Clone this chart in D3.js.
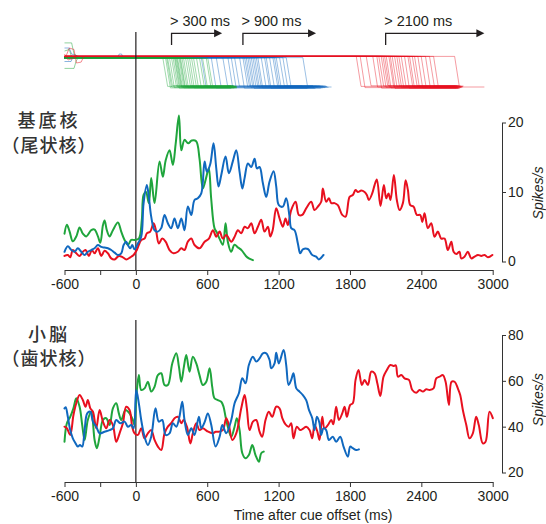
<!DOCTYPE html>
<html><head><meta charset="utf-8">
<script src="https://cdn.jsdelivr.net/npm/d3@7"></script>
<style>
html,body{margin:0;padding:0;background:#fff;}
svg{display:block;}
</style></head>
<body>
<svg id="chart" width="546" height="524"></svg>
<script>
// ---------------- DATA ----------------
const xTickValues = [-600, -300, 0, 600, 1200, 1800, 2400, 3000];
const xTickLabels = ["-600", "", "0", "600", "1200", "1800", "2400", "3000"];
const topYTicks = [0, 10, 20];
const botYTicks = [20, 40, 60, 80];
const topLabel = ["基底核", "（尾状核）"];
const botLabel = ["小脳", "（歯状核）"];
const yTitle = "Spikes/s";
const xTitle = "Time after cue offset (ms)";
const arrowLabels = ["> 300 ms", "> 900 ms", "> 2100 ms"];
const arrowStart = [300, 900, 2100];
const arrowEnd = [725, 1515, 2930];

// top panel (caudate) firing rate [ms, spikes/s]
const caudateGreen = [[-600,4.0],[-580,5.3],[-557,4.3],[-530,2.9],[-501,3.6],[-473,4.9],[-446,4.0],[-417,3.6],[-375,4.5],[-347,4.6],[-319,3.6],[-299,2.7],[-277,5.2],[-263,5.9],[-244,4.5],[-221,3.6],[-193,4.5],[-151,5.6],[-123,4.3],[-95,3.1],[-67,2.4],[-39,3.1],[-11,3.1],[25,3.3],[50,6.0],[65,9.6],[85,10.0],[109,8.4],[129,12.0],[157,8.4],[199,14.4],[227,12.2],[250,14.5],[283,16.0],[311,13.9],[335,17.0],[362,21.0],[382,16.0],[409,17.5],[440,17.0],[470,17.4],[507,17.3],[535,14.8],[563,10.5],[590,12.0],[613,13.4],[633,9.1],[661,4.8],[680,4.2],[703,3.3],[731,2.4],[754,5.5],[773,2.85],[801,1.4],[829,2.4],[860,2.0],[890,1.6],[925,0.8],[950,0.45],[984,0.2]];
const caudateBlue = [[-600,1.4],[-572,2.2],[-543,1.65],[-515,1.4],[-488,1.9],[-459,1.4],[-431,0.94],[-404,1.4],[-375,1.65],[-347,1.9],[-319,2.37],[-291,2.1],[-263,2.0],[-235,1.9],[-207,1.65],[-179,1.27],[-151,0.94],[-123,1.18],[-103,2.37],[-81,2.85],[-67,2.37],[-47,1.9],[-30,2.37],[-11,1.75],[17,2.6],[45,3.57],[65,8.4],[92,11.0],[109,9.3],[129,6.45],[157,4.5],[185,4.3],[213,4.8],[241,6.7],[269,5.5],[297,4.8],[325,6.2],[353,4.8],[382,6.2],[409,4.5],[437,7.9],[466,6.7],[493,8.85],[521,9.1],[550,9.8],[578,14.4],[597,12.9],[625,14.0],[653,17.0],[676,13.4],[695,10.8],[718,12.45],[754,15.1],[782,12.7],[815,14.4],[844,16.0],[872,12.9],[895,10.5],[914,12.0],[942,14.1],[970,13.6],[998,14.8],[1018,13.4],[1040,13.6],[1068,11.25],[1096,9.3],[1124,11.5],[1158,13.0],[1180,10.8],[1202,8.1],[1236,7.9],[1264,9.1],[1292,6.45],[1306,4.8],[1334,4.5],[1362,2.6],[1382,1.18],[1404,1.75],[1446,1.8],[1483,0.94],[1516,0.7],[1538,0.3],[1578,0.94]];
const caudateRed = [[-600,0.8],[-572,0.94],[-552,0.6],[-530,1.65],[-501,1.18],[-473,0.8],[-446,1.4],[-423,1.65],[-395,0.8],[-370,1.65],[-347,1.18],[-319,1.9],[-291,0.8],[-263,1.55],[-235,1.18],[-207,0.45],[-179,0.3],[-143,0.8],[-109,0.6],[-81,0.3],[-47,0.6],[-19,0.94],[8,1.65],[45,3.1],[73,3.3],[92,4.05],[121,4.3],[149,5.5],[171,4.3],[193,2.6],[222,3.3],[250,2.85],[283,1.65],[317,1.18],[353,1.4],[382,1.9],[409,1.65],[437,2.85],[466,3.3],[493,2.37],[535,1.9],[578,2.85],[614,3.3],[648,4.5],[676,3.57],[704,4.3],[731,3.3],[760,3.8],[802,2.85],[830,3.57],[858,4.5],[886,4.05],[914,5.0],[942,4.8],[970,5.5],[998,4.05],[1026,5.0],[1054,6.0],[1082,4.3],[1110,5.0],[1130,3.6],[1150,4.5],[1180,7.65],[1208,6.2],[1236,5.0],[1258,6.2],[1278,5.25],[1306,7.4],[1343,8.6],[1370,6.7],[1399,6.7],[1432,7.65],[1474,8.6],[1502,7.4],[1530,7.9],[1558,8.6],[1572,10.5],[1600,8.6],[1623,9.1],[1643,8.4],[1670,8.4],[1698,8.1],[1735,6.7],[1763,6.45],[1797,9.3],[1824,9.57],[1847,10.3],[1866,10.0],[1895,10.2],[1923,10.0],[1942,9.57],[1959,8.85],[1987,9.8],[2007,11.0],[2026,11.8],[2057,8.0],[2085,11.0],[2105,9.1],[2124,9.8],[2141,8.85],[2169,12.45],[2194,8.85],[2217,7.4],[2245,8.4],[2268,11.7],[2287,10.3],[2307,8.1],[2335,7.9],[2362,6.7],[2391,6.7],[2408,5.7],[2427,6.95],[2455,4.8],[2483,5.5],[2511,3.57],[2539,4.3],[2567,3.3],[2595,3.3],[2623,1.65],[2652,2.85],[2671,1.4],[2694,1.08],[2721,1.4],[2735,0.45],[2763,0.7],[2791,1.4],[2820,0.45],[2848,0.7],[2876,0.94],[2904,0.8],[2932,0.94],[2960,0.6],[2997,0.94]];

// bottom panel (dentate) firing rate [ms, spikes/s]
const dentateGreen = [[-600,33.4],[-580,41.5],[-552,44.3],[-525,48.0],[-501,52.4],[-473,48.7],[-451,40.7],[-431,34.2],[-404,42.9],[-375,46.5],[-347,34.2],[-328,30.6],[-305,35.6],[-277,42.9],[-249,43.7],[-221,40.7],[-193,48.0],[-165,50.2],[-143,45.8],[-123,42.9],[-87,47.3],[-53,45.8],[-25,42.9],[-11,40.7],[3,52.4],[25,62.5],[45,56.0],[73,56.7],[101,59.6],[129,55.3],[157,57.4],[185,62.5],[213,63.3],[241,58.2],[269,58.2],[306,67.6],[340,72.0],[362,66.2],[382,59.6],[404,66.2],[424,71.3],[451,64.0],[479,70.5],[508,67.6],[535,62.5],[563,58.2],[592,59.6],[620,65.5],[642,57.4],[661,52.4],[689,51.6],[718,50.9],[737,48.7],[754,44.3],[773,40.0],[802,35.6],[830,40.0],[849,43.7],[872,38.5],[895,28.4],[922,26.2],[950,27.6],[979,32.0],[1006,27.6],[1034,24.7],[1054,28.4],[1075,29.1]];
const dentateBlue = [[-600,48.0],[-590,48.5],[-572,44.3],[-552,38.5],[-530,34.9],[-510,33.0],[-488,31.3],[-470,32.0],[-451,31.3],[-431,38.5],[-409,45.8],[-383,46.5],[-361,42.2],[-333,40.0],[-305,37.1],[-263,37.8],[-221,38.5],[-193,39.3],[-165,42.9],[-131,41.5],[-95,42.2],[-67,40.0],[-39,40.7],[-19,39.3],[3,56.0],[25,50.2],[45,42.9],[73,35.6],[101,32.0],[129,35.6],[165,48.0],[193,42.2],[222,42.9],[250,36.4],[283,37.1],[311,41.5],[340,40.0],[365,44.0],[390,50.9],[409,42.9],[437,36.4],[466,39.3],[493,36.4],[530,44.3],[550,39.3],[578,42.0],[605,45.8],[634,40.7],[670,31.3],[704,35.6],[727,40.7],[760,37.1],[802,42.9],[830,50.2],[866,54.6],[895,61.1],[922,58.9],[950,66.9],[984,70.5],[1012,68.4],[1040,69.8],[1068,72.0],[1096,72.0],[1124,69.1],[1138,65.5],[1166,67.6],[1180,72.3],[1202,67.6],[1242,73.5],[1264,66.9],[1284,58.2],[1306,60.4],[1325,63.3],[1349,56.7],[1376,55.3],[1404,53.8],[1432,51.6],[1455,47.3],[1483,43.7],[1502,38.5],[1522,44.3],[1544,41.5],[1558,36.4],[1578,39.3],[1600,38.5],[1623,34.2],[1656,35.6],[1684,33.4],[1718,35.6],[1746,31.3],[1782,26.9],[1802,31.3],[1824,30.6],[1853,29.8],[1875,30.1]];
const dentateRed = [[-600,40.0],[-580,39.3],[-552,36.4],[-525,45.0],[-501,50.2],[-473,53.8],[-446,51.6],[-423,48.7],[-404,51.6],[-383,48.0],[-361,46.5],[-333,39.3],[-305,47.3],[-277,42.2],[-249,39.3],[-221,42.9],[-193,40.7],[-165,33.4],[-137,37.1],[-109,41.5],[-81,48.7],[-53,47.3],[-31,40.0],[-11,37.1],[17,36.4],[45,39.3],[73,34.9],[101,37.1],[129,38.5],[157,34.2],[185,31.3],[213,29.8],[241,37.1],[269,40.0],[297,41.5],[325,43.7],[353,44.3],[382,41.5],[401,42.9],[429,40.0],[458,32.7],[479,37.1],[508,41.5],[535,38.5],[563,39.3],[600,38.0],[648,37.1],[670,37.8],[698,37.8],[731,38.5],[760,43.7],[782,40.7],[811,34.2],[844,37.1],[886,48.0],[914,53.8],[933,48.0],[956,38.5],[984,42.2],[1012,42.9],[1040,37.8],[1062,35.6],[1090,42.9],[1118,46.5],[1146,44.3],[1180,48.7],[1208,48.0],[1231,43.7],[1258,41.0],[1286,40.0],[1306,41.5],[1325,34.9],[1353,40.0],[1382,38.5],[1410,39.3],[1432,40.0],[1460,38.5],[1483,34.9],[1502,40.7],[1525,38.0],[1544,34.2],[1567,44.3],[1586,39.3],[1614,40.7],[1643,42.9],[1660,41.0],[1684,48.7],[1707,42.9],[1735,45.8],[1755,48.7],[1774,44.3],[1802,49.5],[1824,50.2],[1847,60.4],[1872,64.7],[1900,58.2],[1923,60.4],[1951,58.2],[1979,64.0],[2007,63.3],[2030,58.9],[2055,53.4],[2082,61.8],[2110,64.7],[2139,66.9],[2166,66.5],[2185,66.8],[2203,61.8],[2231,62.5],[2259,61.1],[2296,60.4],[2324,56.0],[2357,54.8],[2385,56.0],[2413,55.3],[2441,56.3],[2469,56.0],[2503,56.7],[2525,61.1],[2553,61.8],[2581,62.5],[2604,59.6],[2632,49.5],[2654,59.6],[2680,59.6],[2707,56.7],[2727,53.8],[2749,47.3],[2778,40.7],[2805,34.9],[2833,37.1],[2861,44.3],[2883,40.7],[2917,32.7],[2940,33.4],[2973,46.5],[3001,43.7]];

// raster trials: [release time ms, trace end ms, low level]
const greenTrials = [[227,790,0.02],[250,805,-0.03],[260,820,0.0],[267,800,0.05],[283,830,-0.02],[300,815,0.03],[313,840,0.0],[325,800,-0.04],[330,845,0.02],[338,825,0.04],[345,810,-0.01],[351,835,0.01],[363,850,-0.03],[370,820,0.03],[376,805,0.0],[388,840,0.02],[401,830,-0.02],[418,815,0.04],[435,845,0.0],[451,825,-0.03],[468,850,0.02],[485,835,0.01],[510,840,-0.02],[535,830,0.03],[561,845,0.0],[592,850,-0.02],[605,840,0.02]];
const blueTrials = [[550,1420,0.01],[634,1450,-0.03],[676,1480,0.02],[731,1400,0.04],[774,1500,-0.02],[802,1460,0.0],[830,1520,0.03],[872,1440,-0.04],[900,1540,0.01],[914,1490,0.05],[928,1470,-0.02],[942,1550,0.02],[956,1510,-0.05],[970,1530,0.0],[984,1560,0.03],[998,1500,-0.02],[1012,1545,0.04],[1026,1570,-0.03],[1054,1525,0.01],[1082,1580,0.02],[1096,1555,-0.04],[1124,1600,0.0],[1152,1575,0.03],[1166,1590,-0.02],[1180,1610,0.01],[1208,1595,0.04],[1236,1620,-0.01],[1264,1605,0.02],[1404,1645,0.0]];
const redTrials = [[1853,2680,0.02],[1886,2700,-0.02],[1937,2690,0.04],[1992,2710,0.0],[2026,2695,-0.04],[2043,2720,0.03],[2063,2705,-0.01],[2077,2715,0.05],[2091,2690,0.0],[2105,2725,-0.03],[2127,2700,0.02],[2139,2710,-0.05],[2155,2730,0.01],[2175,2700,0.04],[2194,2715,-0.02],[2211,2735,0.0],[2231,2705,0.03],[2259,2720,-0.04],[2287,2740,0.02],[2301,2710,-0.01],[2324,2730,0.04],[2343,2745,0.0],[2371,2720,-0.03],[2399,2750,0.02],[2435,2735,-0.02],[2469,2755,0.03],[2503,2745,0.0],[2680,2930,0.0]];
// raster pre-cue clutter [ms, level]
const greenPre = [[[-600,1.47],[-540,1.47],[-520,1.1],[-480,1.0]],[[-600,0.62],[-520,0.62],[-500,0.9],[-470,1.0]],[[-600,1.2],[-560,1.25],[-540,1.0]]];
const bluePre = [[[-600,1.3],[-560,1.3],[-540,1.1],[-500,1.05]],[[-600,0.85],[-545,0.85],[-530,1.0]],[[-150,1.0],[-140,1.1],[-120,1.1],[-110,1.0]]];
const redPre = [[[-590,1.0],[-560,1.3],[-520,1.25],[-500,0.8],[-460,0.83],[-440,1.0]],[[-600,1.1],[-570,0.9],[-530,0.95],[-510,1.0]]];

// ---------------- DRAW ----------------
const svg = d3.select("#chart");
const col = {green: "#1fa53c", blue: "#1068bf", red: "#e8101f"};
const axisCol = "#333";
const numFont = "'Liberation Sans', Arial, sans-serif";
const cjkFont = "'Noto Sans CJK JP', 'Noto Sans CJK SC', sans-serif";

const x = d3.scaleLinear().domain([-600, 3000]).range([64.5, 492.7]);
const yTop = d3.scaleLinear().domain([0, 20]).range([261.5, 122.5]);
const yBot = d3.scaleLinear().domain([20, 80]).range([472.5, 335]);
const yRas = d3.scaleLinear().domain([0, 1]).range([87, 57]);

const topAxisY = 270, botAxisY = 482, rightAxisX = 502;

// ---- raster ----
const rasLine = d3.line().x(d => x(d[0])).y(d => yRas(d[1]));
const rasG = svg.append("g");
function drawTrials(trials, pre, color, hi) {
  trials.forEach(t => {
    const pts = [[-600, hi], [t[0], hi], [t[0] + 40, t[2]], [t[1], t[2]]];
    rasG.append("path").attr("d", rasLine(pts)).attr("fill", "none")
      .attr("stroke", color).attr("stroke-width", 0.7).attr("stroke-opacity", 0.6);
  });
  pre.forEach(p => {
    rasG.append("path").attr("d", rasLine(p)).attr("fill", "none")
      .attr("stroke", color).attr("stroke-width", 0.7).attr("stroke-opacity", 0.7);
  });
}
drawTrials(blueTrials, bluePre, col.blue, 0.98);
drawTrials(greenTrials, greenPre, col.green, 0.96);
drawTrials(redTrials, redPre, col.red, 1.02);

// arrows
arrowStart.forEach((s, i) => {
  const g = svg.append("g");
  g.append("path").attr("d", `M${x(s)},45 L${x(s)},33.3 L${x(arrowEnd[i]) - 7},33.3`)
    .attr("fill", "none").attr("stroke", "#231f20").attr("stroke-width", 1.3);
  const tip = x(arrowEnd[i]);
  g.append("path").attr("d", `M${tip},33.3 L${tip - 8},29.3 L${tip - 8},37.3 Z`).attr("fill", "#231f20");
  g.append("text").attr("x", x(s) - 1.5).attr("y", 26).attr("font-family", numFont)
    .attr("font-size", 14.5).attr("fill", "#231f20").text(arrowLabels[i]);
});

// zero lines
svg.append("line").attr("x1", x(0)).attr("x2", x(0)).attr("y1", 32).attr("y2", topAxisY)
  .attr("stroke", "#231f20").attr("stroke-width", 1.2);
svg.append("line").attr("x1", x(0)).attr("x2", x(0)).attr("y1", 320).attr("y2", botAxisY)
  .attr("stroke", "#231f20").attr("stroke-width", 1.2);

// curves
function drawCurve(data, yS, color) {
  const line = d3.line().x(d => x(d[0])).y(d => yS(d[1])).curve(d3.curveCatmullRom.alpha(0.5));
  svg.append("path").attr("d", line(data)).attr("fill", "none")
    .attr("stroke", color).attr("stroke-width", 2).attr("stroke-linejoin", "round").attr("stroke-linecap", "round");
}
drawCurve(caudateGreen, yTop, col.green);
drawCurve(caudateRed, yTop, col.red);
drawCurve(caudateBlue, yTop, col.blue);
drawCurve(dentateGreen, yBot, col.green);
drawCurve(dentateRed, yBot, col.red);
drawCurve(dentateBlue, yBot, col.blue);

// axes
function styleAxis(g) {
  g.selectAll("path,line").attr("stroke", axisCol).attr("stroke-width", 1);
  g.selectAll("text").attr("font-family", numFont).attr("font-size", 14).attr("fill", "#231f20");
}
const xAxis = d3.axisBottom(x).tickValues(xTickValues).tickSize(5).tickSizeOuter(0)
  .tickPadding(4).tickFormat((d, i) => xTickLabels[i]);
svg.append("g").attr("transform", `translate(0,${topAxisY})`).call(xAxis).call(styleAxis);
svg.append("g").attr("transform", `translate(0,${botAxisY})`).call(xAxis).call(styleAxis);

svg.append("g").attr("transform", `translate(${rightAxisX},0)`)
  .call(d3.axisRight(yTop).tickValues(topYTicks).tickSize(4).tickSizeOuter(0).tickPadding(2))
  .call(styleAxis);
svg.append("g").attr("transform", `translate(${rightAxisX},0)`)
  .call(d3.axisRight(yBot).tickValues(botYTicks).tickSize(4).tickSizeOuter(0).tickPadding(2))
  .call(styleAxis);
svg.selectAll(".domain").attr("fill", "none");

// y titles
[[ (yTop(0) + yTop(20)) / 2 + 1 ], [ (yBot(20) + yBot(80)) / 2 - 4 ]].forEach(c => {
  svg.append("text").attr("transform", `translate(543,${c[0]}) rotate(-90)`)
    .attr("text-anchor", "middle").attr("font-family", numFont).attr("font-style", "italic")
    .attr("font-size", 14).attr("fill", "#231f20").text(yTitle);
});

// x title
svg.append("text").attr("x", 313).attr("y", 519.5).attr("text-anchor", "middle")
  .attr("font-family", numFont).attr("font-size", 14).attr("fill", "#231f20").text(xTitle);

// region labels
function regionLabel(lines, y1, y2) {
  svg.append("text").attr("x", 49).attr("y", y1).attr("text-anchor", "middle")
    .attr("font-family", cjkFont).attr("font-weight", 500).attr("font-size", 18)
    .attr("letter-spacing", 3).attr("fill", "#333").text(lines[0]);
  svg.append("text").attr("x", 49).attr("y", y2).attr("text-anchor", "middle")
    .attr("font-family", cjkFont).attr("font-weight", 500).attr("font-size", 18)
    .attr("letter-spacing", 1).attr("fill", "#333").text(lines[1]);
}
regionLabel(topLabel, 127, 152);
regionLabel(botLabel, 341, 365);
</script>
</body></html>
